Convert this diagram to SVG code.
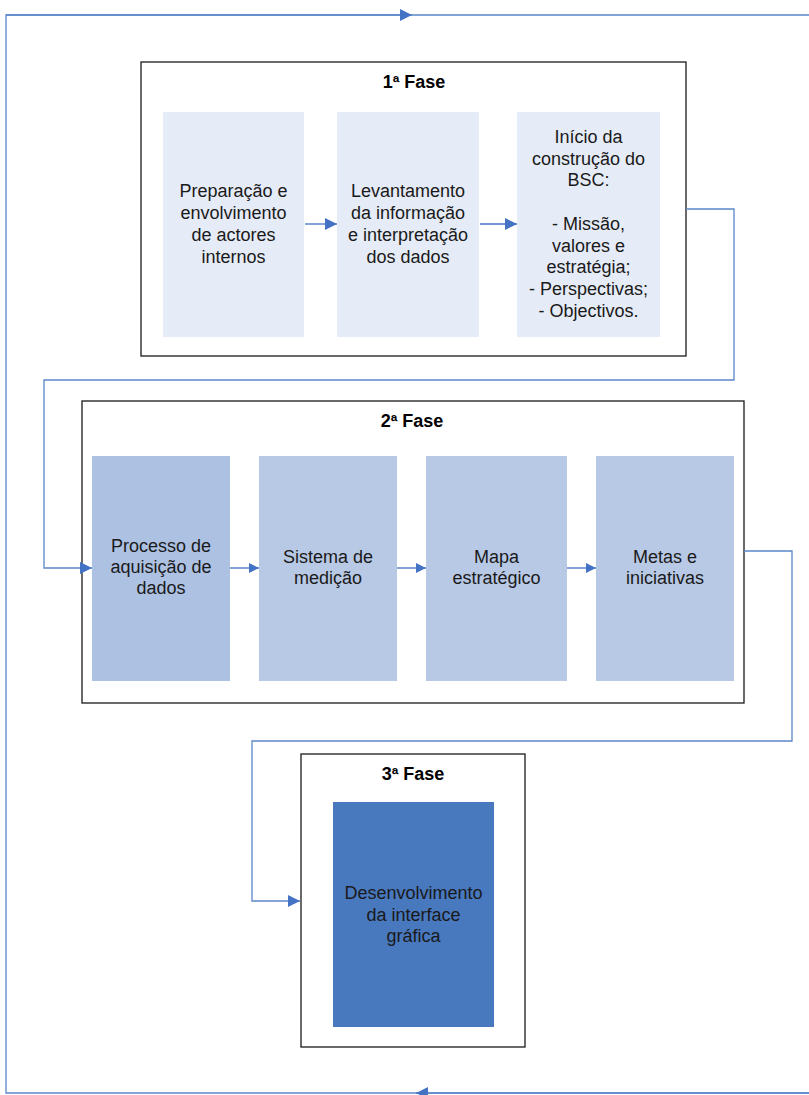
<svg xmlns="http://www.w3.org/2000/svg" width="809" height="1095" viewBox="0 0 809 1095">
  <defs>
    <marker id="arrow" viewBox="0 0 10 10" refX="10" refY="5" markerWidth="10" markerHeight="10" markerUnits="userSpaceOnUse" orient="auto">
      <path d="M0,0 L10,5 L0,10 Z" fill="#4472c4"/>
    </marker>
    <marker id="arrowL" viewBox="0 0 12 12" refX="12" refY="6" markerWidth="12" markerHeight="12" markerUnits="userSpaceOnUse" orient="auto">
      <path d="M0,0 L12,6 L0,12 Z" fill="#4472c4"/>
    </marker>
  </defs>
  <style>
    .phase { fill: #ffffff; stroke: #1a1a1a; stroke-width: 1.3; }
    .title { font-family: "Liberation Sans", Arial, sans-serif; font-size: 18px; font-weight: bold; fill: #000; text-anchor: middle; }
    .label { font-family: "Liberation Sans", Arial, sans-serif; font-size: 18px; fill: #1a1a1a; text-anchor: middle; }
    .p1 { fill: #e6ecf7; }
    .p2a { fill: #adc1e3; }
    .p2 { fill: #b8c9e5; }
    .p3 { fill: #4878be; }
    .conn { fill: none; stroke: #5b87c8; stroke-width: 1.3; }
    .step { fill: none; stroke: #4472c4; stroke-width: 1.3; }
  </style>

  <!-- Phase 1 -->
  <g id="fase1">
    <rect class="phase" x="141" y="62" width="545" height="294"/>
    <text class="title" x="414" y="88">1ª Fase</text>
  </g>
  <g id="preparacao">
    <rect class="p1" x="163" y="112" width="141" height="225"/>
    <text class="label" x="233.5" y="197">Preparação e</text>
    <text class="label" x="233.5" y="219">envolvimento</text>
    <text class="label" x="233.5" y="241">de actores</text>
    <text class="label" x="233.5" y="263">internos</text>
  </g>
  <g id="levantamento">
    <rect class="p1" x="337" y="112" width="142" height="225"/>
    <text class="label" x="408" y="197">Levantamento</text>
    <text class="label" x="408" y="219">da informação</text>
    <text class="label" x="408" y="241">e interpretação</text>
    <text class="label" x="408" y="263">dos dados</text>
  </g>
  <g id="inicio-bsc">
    <rect class="p1" x="517" y="112" width="143" height="225"/>
    <text class="label" x="588.5" y="143">Início da</text>
    <text class="label" x="588.5" y="165">construção do</text>
    <text class="label" x="588.5" y="186">BSC:</text>
    <text class="label" x="588.5" y="230">- Missão,</text>
    <text class="label" x="588.5" y="252">valores e</text>
    <text class="label" x="588.5" y="273">estratégia;</text>
    <text class="label" x="588.5" y="295">- Perspectivas;</text>
    <text class="label" x="588.5" y="317">- Objectivos.</text>
  </g>

  <!-- Phase 2 -->
  <g id="fase2">
    <rect class="phase" x="82" y="401" width="662" height="302"/>
    <text class="title" x="412" y="427">2ª Fase</text>
  </g>
  <g id="aquisicao">
    <rect class="p2a" x="92" y="456" width="138" height="225"/>
    <text class="label" x="161" y="552">Processo de</text>
    <text class="label" x="161" y="573">aquisição de</text>
    <text class="label" x="161" y="594">dados</text>
  </g>
  <g id="medicao">
    <rect class="p2" x="259" y="456" width="138" height="225"/>
    <text class="label" x="328" y="563">Sistema de</text>
    <text class="label" x="328" y="584">medição</text>
  </g>
  <g id="mapa">
    <rect class="p2" x="426" y="456" width="141" height="225"/>
    <text class="label" x="496.5" y="563">Mapa</text>
    <text class="label" x="496.5" y="584">estratégico</text>
  </g>
  <g id="metas">
    <rect class="p2" x="596" y="456" width="138" height="225"/>
    <text class="label" x="665" y="563">Metas e</text>
    <text class="label" x="665" y="584">iniciativas</text>
  </g>

  <!-- Phase 3 -->
  <g id="fase3">
    <rect class="phase" x="301" y="754" width="224" height="293"/>
    <text class="title" x="413" y="780">3ª Fase</text>
  </g>
  <g id="interface">
    <rect class="p3" x="333" y="802" width="161" height="225"/>
    <text class="label" x="413.5" y="899">Desenvolvimento</text>
    <text class="label" x="413.5" y="921">da interface</text>
    <text class="label" x="413.5" y="942">gráfica</text>
  </g>

  <!-- Outer feedback loop, links between phases and steps inside them -->
  <g id="connectors">
    <path class="conn" d="M809,1093 H6 V15 H809"/>
    <path class="conn" d="M6,15 H412" marker-end="url(#arrowL)"/>
    <path class="conn" d="M809,1093 H416" marker-end="url(#arrowL)"/>
    <path class="conn" d="M686,209 H734 V380 H44 V568 H92" marker-end="url(#arrowL)"/>
    <path class="conn" d="M744,551 H792 V741 H252 V901 H300" marker-end="url(#arrowL)"/>
    <path class="step" d="M305,224 H337" marker-end="url(#arrowL)"/>
    <path class="step" d="M480,224 H517" marker-end="url(#arrowL)"/>
    <path class="step" d="M230,568 H259" marker-end="url(#arrow)"/>
    <path class="step" d="M397,568 H426" marker-end="url(#arrow)"/>
    <path class="step" d="M567,568 H596" marker-end="url(#arrow)"/>
  </g>
</svg>
